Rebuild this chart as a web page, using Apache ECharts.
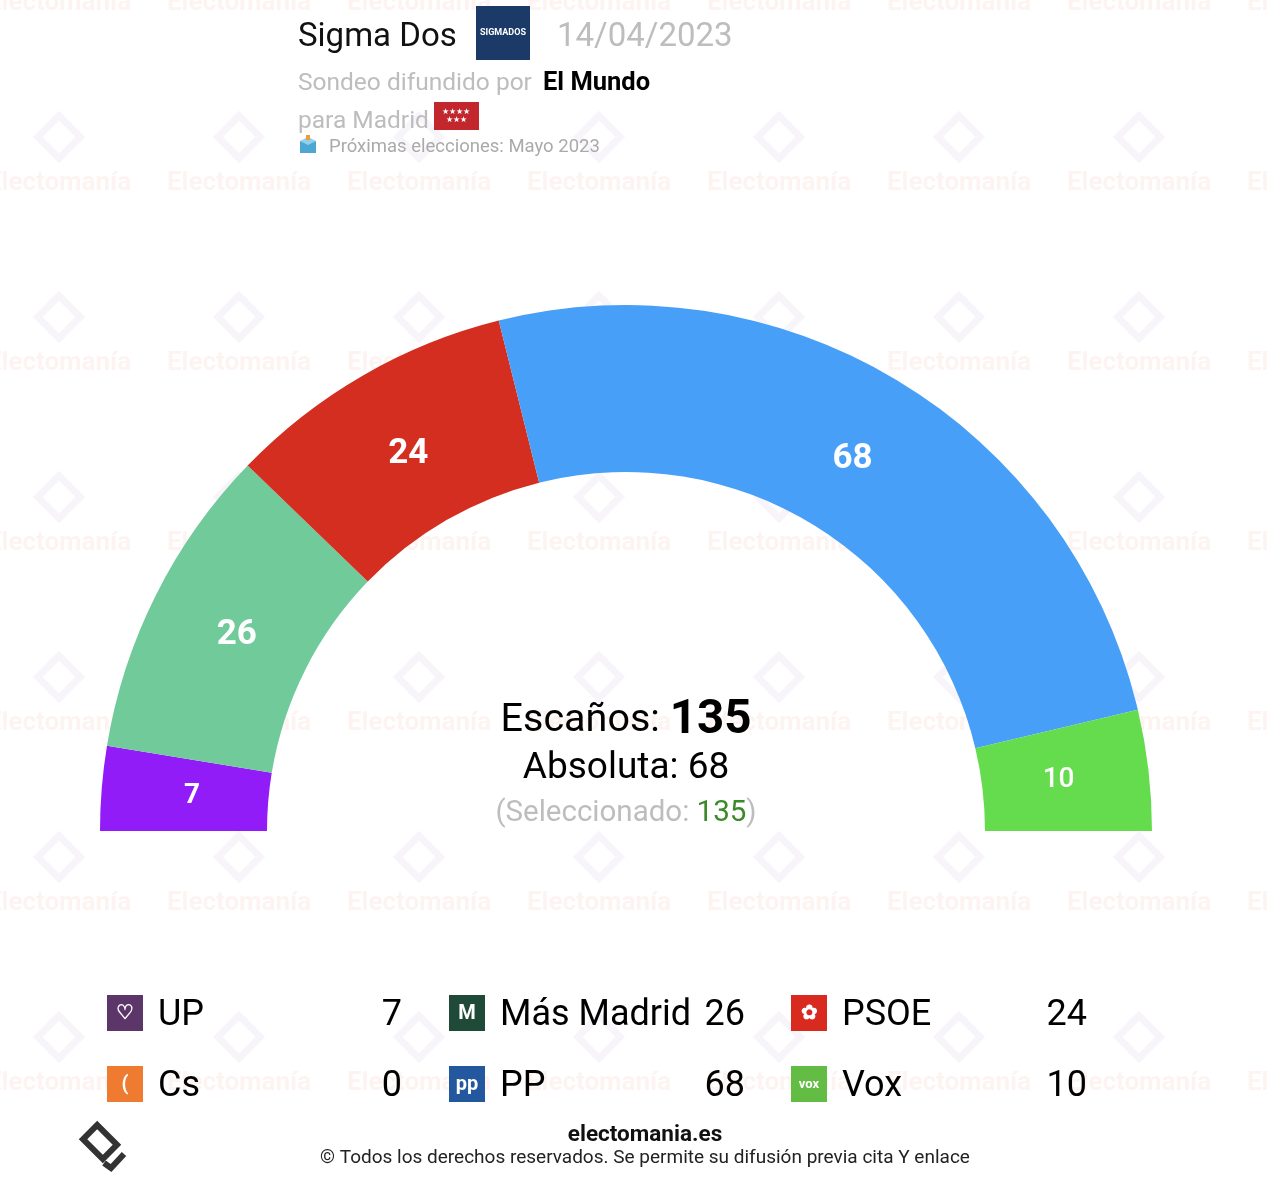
<!DOCTYPE html>
<html lang="es">
<head>
<meta charset="UTF-8">
<title>Sigma Dos - Madrid</title>
<style>
  html, body { margin: 0; padding: 0; background: #fff; }
  #chart { width: 1268px; height: 1182px; }
</style>
</head>
<body>
<div id="chart"></div>
<script src="https://cdn.jsdelivr.net/npm/echarts@6/dist/echarts.min.js"></script>
<script>
// seats per party, in legend order
var parties = ['UP', 'Cs', 'Más Madrid', 'PP', 'PSOE', 'Vox'];
var seats = [7, 0, 26, 68, 24, 10];
var arcColors = ['#911cf7', '#ef7b30', '#70ca9a', '#489ff8', '#d42e20', '#65dc4d'];
var iconColors = ['#5c3569', '#ef7b30', '#1f4a37', '#23579e', '#d92a20', '#63bd45'];
var iconGlyphs = ['♡', '(', 'M', 'pp', '✿', 'vox'];
// order of the arc, left to right
var arcOrder = ['UP', 'Más Madrid', 'PSOE', 'PP', 'Vox', 'Cs'];
var totalSeats = 135;
var majority = 68;

var chart = echarts.init(document.getElementById('chart'));
var FONT = 'Roboto, "Noto Sans", sans-serif';

var pieData = [];
arcOrder.forEach(function (name) {
    var i = parties.indexOf(name);
    if (seats[i] > 0) {
        pieData.push({ name: name, value: seats[i], itemStyle: { color: arcColors[i] } });
    }
});

var g = [];

// watermark grid
var wmX = [59, 239, 419, 599, 779, 959, 1139, 1319];
var wmY = [1, 181, 361, 541, 721, 901, 1081];
wmY.forEach(function (y) {
    wmX.forEach(function (x) {
        g.push({
            type: 'text', z: 0, x: x, y: y + 2,
            style: { text: 'Electomanía', font: 'bold 26px ' + FONT, fill: 'rgba(238,130,100,0.09)',
                     align: 'center', verticalAlign: 'middle' }
        });
        g.push({
            type: 'rect', z: 0, x: x, y: y - 44, rotation: Math.PI / 4,
            shape: { x: -15, y: -15, width: 30, height: 30 },
            style: { fill: 'none', stroke: 'rgba(150,110,190,0.08)', lineWidth: 7 }
        });
    });
});

// header
g.push({ type: 'text', x: 298, y: 38, style: { text: 'Sigma Dos', font: '33px ' + FONT, fill: '#111', verticalAlign: 'middle' } });
g.push({ type: 'rect', x: 476, y: 6, shape: { width: 54, height: 54 }, style: { fill: '#1b3a68' } });
g.push({ type: 'text', x: 503, y: 33, style: { text: 'SIGMADOS', font: 'bold 9px ' + FONT, fill: '#fff', align: 'center', verticalAlign: 'middle' } });
g.push({ type: 'text', x: 557, y: 38, style: { text: '14/04/2023', font: '33px ' + FONT, fill: '#bdbdbd', verticalAlign: 'middle' } });
g.push({ type: 'text', x: 298, y: 84, style: { text: 'Sondeo difundido por', font: '24.5px ' + FONT, fill: '#bdbdbd', verticalAlign: 'middle' } });
g.push({ type: 'text', x: 543, y: 84, style: { text: 'El Mundo', font: 'bold 25.5px ' + FONT, fill: '#000', verticalAlign: 'middle' } });
g.push({ type: 'text', x: 298, y: 122, style: { text: 'para Madrid', font: '24.5px ' + FONT, fill: '#bdbdbd', verticalAlign: 'middle' } });
g.push({ type: 'rect', x: 434, y: 102, shape: { width: 45, height: 28 }, style: { fill: '#c1272d' } });
g.push({ type: 'text', x: 456, y: 116, style: { text: '★★★★\n★★★', font: '8px ' + FONT, lineHeight: 8, fill: '#fff', align: 'center', verticalAlign: 'middle' } });
g.push({ type: 'rect', x: 300, y: 141, shape: { width: 16, height: 12 }, style: { fill: '#4ea6d4' } });
g.push({ type: 'polygon', shape: { points: [[300, 141], [308, 137], [316, 141], [308, 145]] }, style: { fill: '#8fd0ec' } });
g.push({ type: 'rect', x: 306, y: 135, shape: { width: 4, height: 5 }, style: { fill: '#f29b38' } });
g.push({ type: 'text', x: 329, y: 147, style: { text: 'Próximas elecciones: Mayo 2023', font: '18.5px ' + FONT, fill: '#aaaaaa', verticalAlign: 'middle' } });

// centre texts
g.push({
    type: 'text', x: 626, y: 721,
    style: {
        text: '{a|Escaños: }{b|' + totalSeats + '}',
        align: 'center', verticalAlign: 'middle',
        rich: {
            a: { font: '39.5px ' + FONT, fill: '#000' },
            b: { font: 'bold 47.5px ' + FONT, fill: '#000' }
        }
    }
});
g.push({ type: 'text', x: 626, y: 769, style: { text: 'Absoluta: ' + majority, font: '37px ' + FONT, fill: '#000', align: 'center', verticalAlign: 'middle' } });
g.push({
    type: 'text', x: 626, y: 814,
    style: {
        text: '{a|(Seleccionado: }{b|' + totalSeats + '}{a|)}',
        align: 'center', verticalAlign: 'middle',
        rich: {
            a: { font: '29.5px ' + FONT, fill: '#bdbdbd' },
            b: { font: '29.5px ' + FONT, fill: '#3a8a2a' }
        }
    }
});

// legend table
var colX = [107, 449, 791];
var valX = [402, 745, 1087];
var rowY = [1013, 1084];
parties.forEach(function (name, i) {
    var c = Math.floor(i / 2), r = i % 2;
    var x = colX[c], y = rowY[r];
    g.push({ type: 'rect', x: x, y: y - 18, shape: { width: 36, height: 36 }, style: { fill: iconColors[i] } });
    g.push({ type: 'text', x: x + 18, y: y + 1, style: { text: iconGlyphs[i], font: 'bold ' + (iconGlyphs[i].length > 2 ? 13 : 20) + 'px ' + FONT, fill: '#fff', align: 'center', verticalAlign: 'middle' } });
    g.push({ type: 'text', x: x + 51, y: y + 3, style: { text: name, font: '36px ' + FONT, fill: '#000', verticalAlign: 'middle' } });
    g.push({ type: 'text', x: valX[c], y: y + 3, style: { text: String(seats[i]), font: '36px ' + FONT, fill: '#000', align: 'right', verticalAlign: 'middle' } });
});

// footer
g.push({ type: 'text', x: 645, y: 1135, style: { text: 'electomania.es', font: 'bold 22.5px ' + FONT, fill: '#111', align: 'center', verticalAlign: 'middle' } });
g.push({ type: 'text', x: 645, y: 1158, style: { text: '© Todos los derechos reservados. Se permite su difusión previa cita Y enlace', font: '19px ' + FONT, fill: '#222', align: 'center', verticalAlign: 'middle' } });
g.push({
    type: 'rect', x: 100, y: 1142, rotation: Math.PI / 4,
    shape: { x: -10, y: -14, width: 20, height: 28 },
    style: { fill: 'none', stroke: '#333', lineWidth: 6 }
});
g.push({
    type: 'polyline',
    shape: { points: [[104, 1163], [111, 1168], [124, 1154]] },
    style: { fill: 'none', stroke: '#333', lineWidth: 6 }
});

var labelSize = function (v) { return v < 15 ? 28 : 35; };

chart.setOption({
    animation: false,
    graphic: { elements: g },
    series: [{
        type: 'pie',
        center: [626, 831],
        radius: [359, 526],
        startAngle: 180,
        endAngle: 0,
        clockwise: true,
        silent: true,
        label: { show: false },
        labelLine: { show: false },
        data: pieData
    }, {
        // label ring, drawn a bit inside the middle of the band
        type: 'pie',
        center: [626, 831],
        radius: [359, 506],
        startAngle: 180,
        endAngle: 0,
        clockwise: true,
        silent: true,
        avoidLabelOverlap: false,
        itemStyle: { color: 'rgba(0,0,0,0)' },
        label: {
            show: true,
            position: 'inside',
            color: '#fff',
            fontFamily: FONT,
            formatter: '{c}'
        },
        labelLine: { show: false },
        data: pieData.map(function (d) {
            return {
                name: d.name, value: d.value,
                itemStyle: { color: 'rgba(0,0,0,0)' },
                label: { fontSize: labelSize(d.value), fontWeight: d.value === 10 ? 500 : 'bold' }
            };
        })
    }]
});
</script>
</body>
</html>
